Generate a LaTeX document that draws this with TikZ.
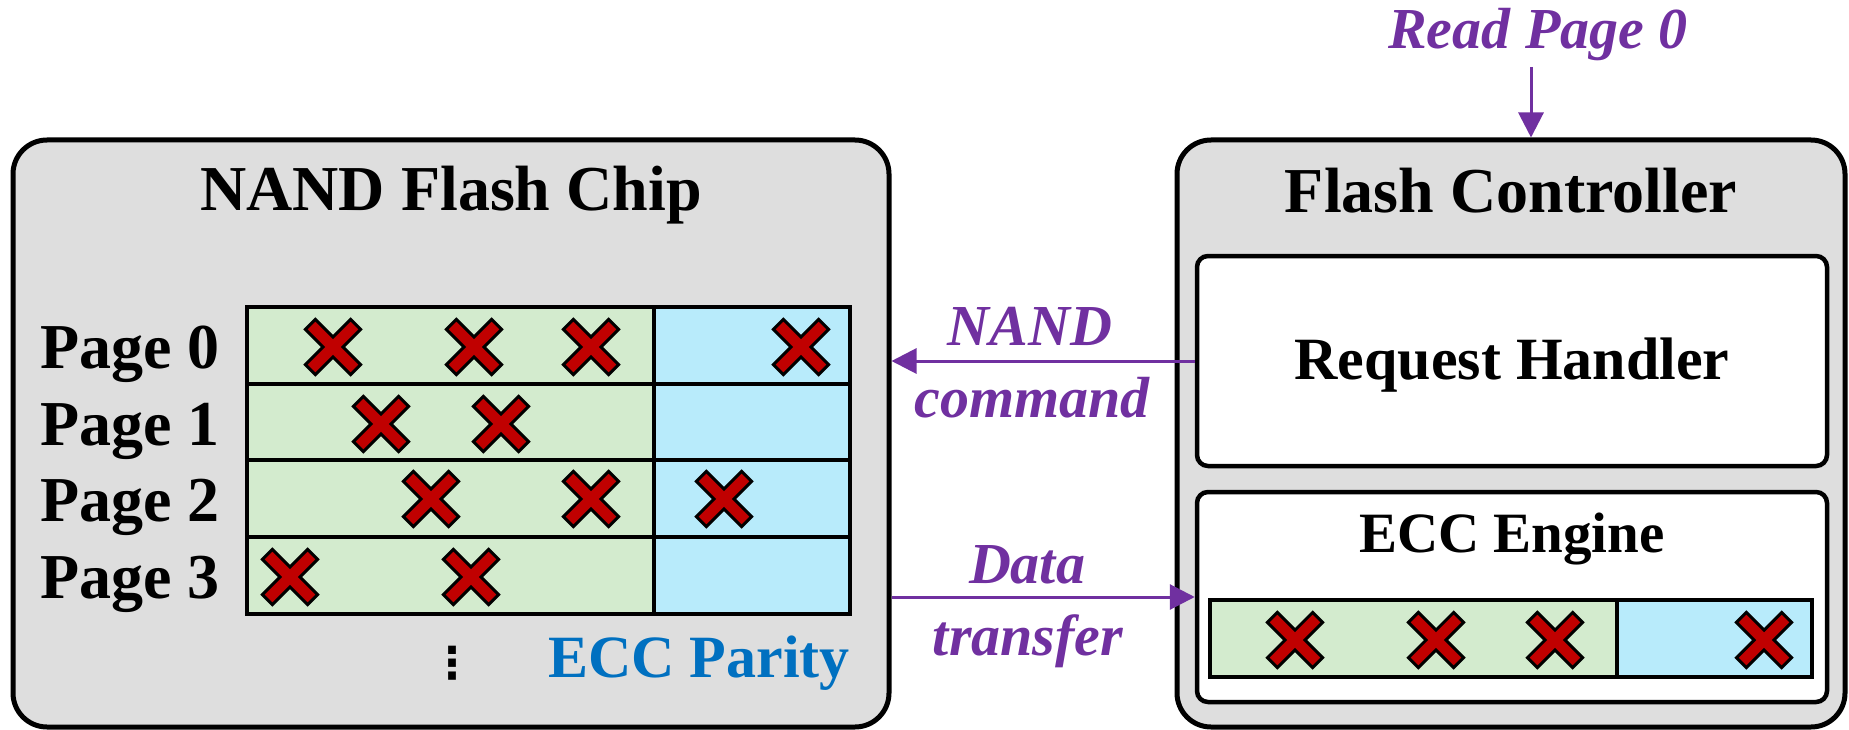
\documentclass[tikz,border=0pt]{standalone}
\usepackage{fontspec}
\setmainfont{Liberation Serif}
\newfontfamily\symfam{DejaVu Sans}
\usetikzlibrary{arrows.meta}
\definecolor{boxgray}{HTML}{DEDEDE}
\definecolor{cellgreen}{HTML}{D3EBCE}
\definecolor{cellblue}{HTML}{B8EBFB}
\definecolor{xred}{HTML}{C00000}
\definecolor{lblpurple}{HTML}{7030A0}
\definecolor{lblblue}{HTML}{0070C0}
\newcommand\fsz[1]{\fontsize{#1}{#1}\selectfont}
\tikzset{
  bigbox/.style={draw=black, line width=5pt, fill=boxgray, rounded corners=34pt, inner sep=0pt, minimum height=587pt},
  innerbox/.style={draw=black, line width=4.5pt, fill=white, rounded corners=11pt, inner sep=0pt, minimum width=630pt, minimum height=210pt},
  titletext/.style={anchor=base, inner sep=0pt, font=\fsz{64}\bfseries},
  bodytext/.style={anchor=base, inner sep=0pt, font=\fsz{60}\bfseries},
  pagetext/.style={anchor=base east, inner sep=0pt, font=\fsz{64}\bfseries},
  purpletext/.style={anchor=base, inner sep=0pt, text=lblpurple, font=\fsz{58}\bfseries\itshape},
  parrow/.style={draw=lblpurple, line width=3pt, -{Triangle[length=25pt, width=25pt]}},
  gridline/.style={draw=black, line width=4pt},
  xmark/.pic={\filldraw[fill=xred, draw=black, line width=3pt, line join=miter, rotate=45]
    (32,7) -- (7,7) -- (7,32) -- (-7,32) -- (-7,7) -- (-32,7) -- (-32,-7) -- (-7,-7) -- (-7,-32) -- (7,-32) -- (7,-7) -- (32,-7) -- cycle;}
}
\begin{document}
\begin{tikzpicture}[x=1pt, y=-1pt]
\useasboundingbox (0,0) rectangle (1849,730);

% outer boxes
\node[bigbox, minimum width=876pt] (chip) at (451,433.5) {};
\node[bigbox, minimum width=668pt] (ctrl) at (1511,433.5) {};
\node[innerbox] (rh) at (1512,361) {};
\node[innerbox] (ecc) at (1512,597) {};

% titles
\node[titletext] (chiptitle) at (451,211) {NAND Flash Chip};
\node[titletext] (ctrltitle) at (1511,212) {Flash Controller};
\node[bodytext] (rhtext) at (1512,379) {Request Handler};
\node[bodytext, font=\fsz{57}\bfseries] (ecctext) at (1512,552) {ECC Engine};

% page grid
\fill[cellgreen] (247,307) rectangle (654,614);
\fill[cellblue] (654,307) rectangle (850,614);
\draw[gridline] (247,384) -- (850,384);
\draw[gridline] (247,460) -- (850,460);
\draw[gridline] (247,537) -- (850,537);
\draw[gridline] (654,307) -- (654,614);
\draw[gridline] (247,307) rectangle (850,614);

\node[pagetext] (p0) at (220,368) {Page 0};
\node[pagetext] (p1) at (220,445) {Page 1};
\node[pagetext] (p2) at (220,521) {Page 2};
\node[pagetext] (p3) at (220,598) {Page 3};

\node[anchor=base east, inner sep=0pt, text=lblblue, font=\fsz{60}\bfseries] (parity) at (850,677) {ECC Parity};
\node[inner sep=0pt, font=\symfam\bfseries\fsz{44}] (dots) at (452,663) {⋮};

% errors in chip
\pic at (333,347) {xmark};
\pic at (474,347) {xmark};
\pic at (591,347) {xmark};
\pic at (801,347) {xmark};
\pic at (381,424) {xmark};
\pic at (501,424) {xmark};
\pic at (431,499) {xmark};
\pic at (591,499) {xmark};
\pic at (724,499) {xmark};
\pic at (290,577) {xmark};
\pic at (471,577) {xmark};

% ECC engine buffer
\fill[cellgreen] (1210,600) rectangle (1617,677);
\fill[cellblue] (1617,600) rectangle (1812,677);
\draw[gridline] (1617,600) -- (1617,677);
\draw[gridline] (1210,600) rectangle (1812,677);
\pic at (1295,640) {xmark};
\pic at (1436,640) {xmark};
\pic at (1555,640) {xmark};
\pic at (1764,640) {xmark};

% arrows and labels
\node[purpletext] (readlbl) at (1538,49) {Read Page 0};
\coordinate (readtop) at (1531,67);
\draw[parrow] (readtop) -- (readtop |- ctrl.north);

\draw[parrow] (rh.west) -- (rh.west -| chip.east);
\node[purpletext] (nandlbl) at (1030,345) {NAND};
\node[purpletext] (cmdlbl) at (1032,417) {command};

\draw[parrow] (chip.east |- ecc.west) -- (ecc.west);
\node[purpletext] (datalbl) at (1027,583) {Data};
\node[purpletext] (xferlbl) at (1028,655) {transfer};
\end{tikzpicture}
\end{document}
